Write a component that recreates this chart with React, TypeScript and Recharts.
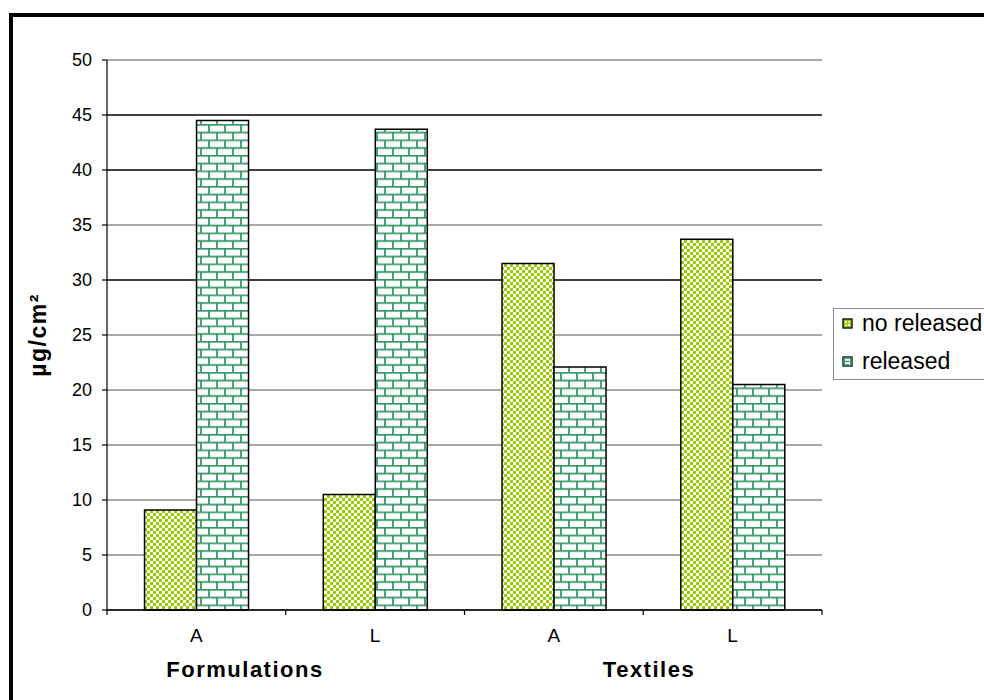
import React from 'react';
import { BarChart, Bar, XAxis, YAxis, CartesianGrid } from 'recharts';

// values
const categories = ['A', 'L', 'A', 'L'];
const groups = ['Formulations', 'Textiles'];
const seriesNames = ['no released', 'released'];
const noReleased = [9.1, 10.5, 31.5, 33.7];
const released = [44.5, 43.7, 22.1, 20.5];
const yTicks = [0, 5, 10, 15, 20, 25, 30, 35, 40, 45, 50];
const darkGridValues = [30, 40, 45];

const data = categories.map((name, i) => ({
  name,
  noReleased: noReleased[i],
  released: released[i],
}));

const FONT = '"Liberation Sans", Arial, sans-serif';
const GREEN_CHECK = '#99cc00';
const GREEN_BRICK = '#339966';

const Patterns = () => (
  <defs>
    <pattern id="check" patternUnits="userSpaceOnUse" width="6" height="6">
      <rect width="6" height="6" fill="#fff" />
      <rect x="0" y="0" width="3" height="3" fill={GREEN_CHECK} />
      <rect x="3" y="3" width="3" height="3" fill={GREEN_CHECK} />
    </pattern>
    <pattern id="brick" patternUnits="userSpaceOnUse" width="16" height="15.5">
      <rect width="16" height="15.5" fill="#fff" />
      <line x1="0" y1="0.75" x2="16" y2="0.75" stroke={GREEN_BRICK} strokeWidth="1.8" />
      <line x1="0" y1="8.5" x2="16" y2="8.5" stroke={GREEN_BRICK} strokeWidth="1.8" />
      <line x1="1" y1="0" x2="1" y2="8.5" stroke={GREEN_BRICK} strokeWidth="1.8" />
      <line x1="9" y1="8.5" x2="9" y2="15.5" stroke={GREEN_BRICK} strokeWidth="1.8" />
    </pattern>
  </defs>
);

const GridLine = (props: any) => {
  const value = yTicks[props.index];
  const dark = darkGridValues.includes(value);
  return (
    <line
      x1={props.x1}
      y1={props.y1}
      x2={props.x2}
      y2={props.y2}
      stroke={dark ? '#000' : '#8c8c8c'}
      strokeWidth={1.3}
    />
  );
};

// category label, plus Excel-style tick marks on the band edges
const CategoryTick = (props: any) => {
  const { x, y, payload, index } = props;
  const half = payload && payload.offset ? payload.offset : 0;
  return (
    <g>
      <line x1={x - half} y1={y} x2={x - half} y2={y + 5} stroke="#000" strokeWidth={1.2} />
      {index === categories.length - 1 && (
        <line x1={x + half} y1={y} x2={x + half} y2={y + 5} stroke="#000" strokeWidth={1.2} />
      )}
      <text
        x={x}
        y={y + 19}
        dy="0.71em"
        textAnchor="middle"
        fill="#000"
        fontSize={19}
        fontFamily={FONT}
      >
        {payload.value}
      </text>
    </g>
  );
};

const LegendIcon = ({ kind }: { kind: number }) => (
  <svg width={11} height={11} style={{ marginRight: 9 }}>
    {kind === 0 ? (
      <g>
        <rect x={1} y={1} width={9} height={9} fill={GREEN_CHECK} stroke="#000" strokeWidth={1.3} />
        <rect x={3} y={3} width={2} height={2} fill="#fff" />
        <rect x={6} y={6} width={2} height={2} fill="#fff" />
        <rect x={3} y={6} width={2} height={2} fill="#dfe9a0" />
        <rect x={6} y={3} width={2} height={2} fill="#dfe9a0" />
      </g>
    ) : (
      <g>
        <rect x={1} y={1} width={9} height={9} fill="#fff" stroke="#000" strokeWidth={1.3} />
        <rect x={2.2} y={2.2} width={6.6} height={6.6} fill="none" stroke={GREEN_BRICK} strokeWidth={1.4} />
        <line x1={2} y1={5.5} x2={9} y2={5.5} stroke={GREEN_BRICK} strokeWidth={1.4} />
        <line x1={7.5} y1={5.5} x2={7.5} y2={9} stroke="#fff" strokeWidth={1.2} />
      </g>
    )}
  </svg>
);

const groupCenters = [245, 649];

export default function App() {
  return (
    <div
      style={{
        position: 'absolute',
        left: 0,
        top: 0,
        width: 984,
        height: 700,
        overflow: 'hidden',
        background: '#fff',
        fontFamily: FONT,
      }}
    >
      <div
        style={{
          position: 'absolute',
          left: 9,
          top: 13,
          width: 1100,
          height: 1100,
          borderLeft: '4px solid #000',
          borderTop: '4px solid #000',
        }}
      />
      <div style={{ position: 'absolute', left: 0, top: 0 }}>
        <BarChart
          width={984}
          height={700}
          data={data}
          margin={{ top: 60, right: 162, bottom: 60, left: 47 }}
          barCategoryGap="21%"
          barGap={0}
        >
          <Patterns />
          <CartesianGrid vertical={false} horizontal={<GridLine />} />
          <XAxis
            dataKey="name"
            axisLine={{ stroke: '#000', strokeWidth: 1.5 }}
            tickLine={false}
            tickSize={0}
            tickMargin={0}
            height={30}
            interval={0}
            tick={<CategoryTick />}
          />
          <YAxis
            domain={[0, 50]}
            ticks={yTicks}
            width={60}
            axisLine={{ stroke: '#000', strokeWidth: 1.2 }}
            tickLine={{ stroke: '#000', strokeWidth: 1.2 }}
            tickSize={5}
            tickMargin={10}
            tick={{ fill: '#000', fontSize: 18, fontFamily: FONT }}
          />
          <YAxis
            yAxisId="r"
            orientation="right"
            domain={[0, 50]}
            width={0}
            tick={false}
            tickLine={false}
            axisLine={{ stroke: '#8c8c8c', strokeWidth: 2 }}
          />
          <Bar
            dataKey="noReleased"
            name={seriesNames[0]}
            fill="url(#check)"
            stroke="#000"
            strokeWidth={1.5}
            isAnimationActive={false}
          />
          <Bar
            dataKey="released"
            name={seriesNames[1]}
            fill="url(#brick)"
            stroke="#000"
            strokeWidth={1.5}
            isAnimationActive={false}
          />
        </BarChart>
      </div>

      {/* y-axis title */}
      <div
        style={{
          position: 'absolute',
          left: 38,
          top: 335,
          transform: 'translate(-50%, -50%) rotate(-90deg)',
          fontWeight: 'bold',
          fontSize: 23,
          letterSpacing: 1.5,
          whiteSpace: 'nowrap',
          color: '#000',
        }}
      >
        µg/cm²
      </div>

      {/* group labels under the categories */}
      {groups.map((g, i) => (
        <div
          key={g}
          style={{
            position: 'absolute',
            left: groupCenters[i],
            top: 658,
            transform: 'translateX(-50%)',
            fontWeight: 'bold',
            fontSize: 22,
            letterSpacing: 1.5,
            lineHeight: '24px',
            whiteSpace: 'nowrap',
            color: '#000',
          }}
        >
          {g}
        </div>
      ))}

      {/* legend */}
      <div
        style={{
          position: 'absolute',
          left: 833,
          top: 308,
          width: 200,
          height: 72,
          border: '1px solid #8c8c8c',
          boxSizing: 'border-box',
        }}
      >
        {seriesNames.map((s, i) => (
          <div
            key={s}
            style={{
              position: 'absolute',
              left: 8,
              top: 1 + i * 38,
              display: 'flex',
              alignItems: 'center',
              fontSize: 23,
              lineHeight: '26px',
              whiteSpace: 'nowrap',
              color: '#000',
            }}
          >
            <LegendIcon kind={i} />
            {s}
          </div>
        ))}
      </div>
    </div>
  );
}
